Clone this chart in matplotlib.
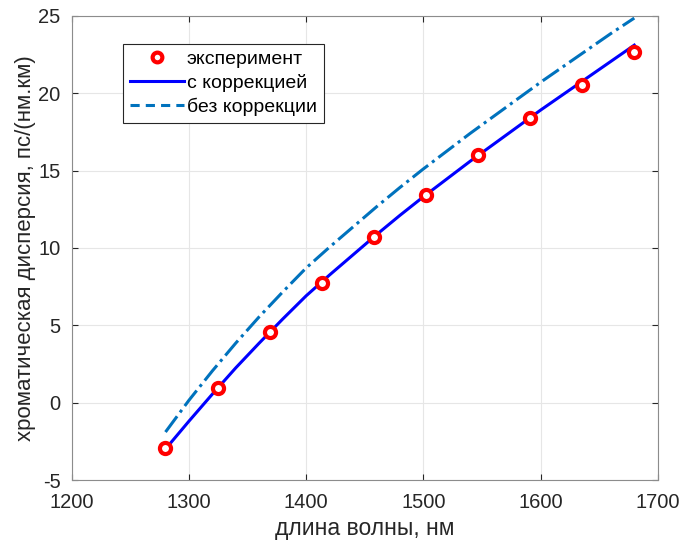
import numpy as np
import matplotlib
matplotlib.use('Agg')
import matplotlib.pyplot as plt
from matplotlib.lines import Line2D

# experiment points
wl_exp = [1280, 1324.4, 1368.9, 1413.3, 1457.8, 1502.2, 1546.7, 1591.1, 1635.6, 1680]
d_exp = [-2.95, 0.95, 4.55, 7.75, 10.7, 13.4, 16.0, 18.4, 20.5, 22.65]

wl_fit = [1280, 1300, 1320, 1340, 1360, 1380, 1400, 1420, 1440, 1460, 1480,
          1500, 1520, 1540, 1560, 1580, 1600, 1620, 1640, 1660, 1680]
d_corr = [-3.0, -1.2, 0.55, 2.25, 3.85, 5.4, 6.9, 8.25, 9.55, 10.85, 12.1,
          13.3, 14.45, 15.6, 16.7, 17.8, 18.9, 19.95, 21.0, 22.05, 23.1]
d_nocorr = [-1.9, 0.15, 2.05, 3.85, 5.55, 7.15, 8.7, 10.05, 11.35, 12.65, 13.9,
            15.1, 16.25, 17.4, 18.5, 19.6, 20.7, 21.75, 22.8, 23.85, 24.85]

labels = ['эксперимент', 'с коррекцией', 'без коррекции']

plt.rcParams['font.family'] = ['Liberation Sans', 'DejaVu Sans']
plt.rcParams['axes.unicode_minus'] = False

fig = plt.figure(figsize=(6.83, 5.43), dpi=100, facecolor='w')
ax = fig.add_axes([0.105, 0.116, 0.858, 0.855])

ax.plot(wl_exp, d_exp, 'o', color='red', mfc='white', ms=8, mew=3, zorder=3)
ax.plot(wl_fit, d_corr, '-', color='blue', lw=2.2, zorder=2)
ax.plot(wl_fit, d_nocorr, '-.', color='#0072BD', lw=2.2, zorder=2)

ax.set_xlim(1200, 1700)
ax.set_ylim(-5, 25)
ax.set_xticks(np.arange(1200, 1701, 100))
ax.set_yticks(np.arange(-5, 26, 5))
ax.grid(True, color='#e6e6e6', lw=0.8)
ax.set_axisbelow(True)
ax.tick_params(direction='in', length=4, colors='#262626', labelsize=14.5,
               top=True, right=True)
ax.tick_params(axis='x', pad=9)
ax.tick_params(axis='y', pad=8)
for s in ax.spines.values():
    s.set_color('#8c8c8c')
    s.set_linewidth(0.8)

ax.set_xlabel('длина волны, нм', fontsize=16.5, color='#262626', labelpad=4)
ax.set_ylabel('хроматическая дисперсия, пс/(нм.км)', fontsize=16, color='#262626', labelpad=2)

# legend handles as drawn by the original (dashed sample for the dash-dot line)
handles = [Line2D([], [], ls='none', marker='o', color='red', mfc='white', ms=7, mew=3),
           Line2D([], [], ls='-', color='blue', lw=2.2),
           Line2D([], [], ls='--', color='#0072BD', lw=2.2, dashes=(3, 2))]
leg = ax.legend(handles, labels, loc='upper left', bbox_to_anchor=(0.087, 0.94),
                fontsize=14, fancybox=False, framealpha=1, edgecolor='#262626',
                handlelength=2.8, borderpad=0.35, labelspacing=0.3,
                handletextpad=0.15, borderaxespad=0)
leg.get_frame().set_linewidth(0.8)

plt.savefig('out.png', dpi=100)
